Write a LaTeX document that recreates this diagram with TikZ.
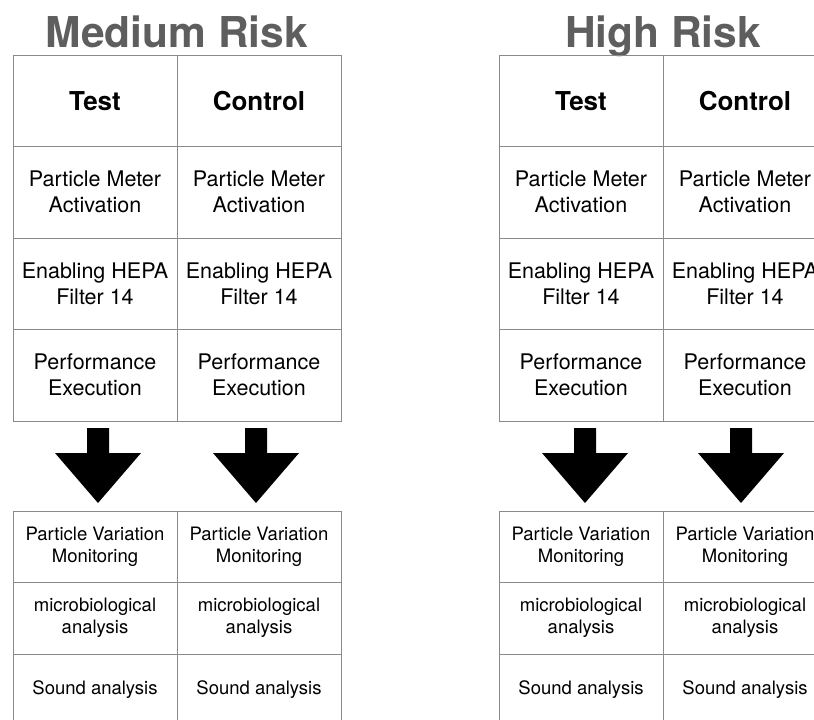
\documentclass[tikz,border=0pt]{standalone}
\usepackage{fontspec}
\setmainfont{TeX Gyre Heros}
\definecolor{linegray}{HTML}{8A8A8A}
\definecolor{titlegray}{HTML}{5E5E5E}
\tikzset{
  cellup/.style={draw=linegray, line width=0.9pt, minimum width=164pt, minimum height=91.5pt,
    inner sep=0pt, align=center, font=\fontsize{21.5}{26}\selectfont},
  cellhead/.style={cellup, font=\fontsize{26}{28}\selectfont\bfseries},
  celllow/.style={draw=linegray, line width=0.9pt, minimum width=164pt, minimum height=71.5pt,
    inner sep=0pt, align=center, font=\fontsize{18.5}{22}\selectfont},
  titletext/.style={anchor=base, text=titlegray, inner sep=0pt, font=\fontsize{42.5}{44}\selectfont\bfseries},
  downarrow/.pic={\fill[black] (-11,0) -- (11,0) -- (11,25) -- (43,25) -- (0,75) -- (-43,25) -- (-11,25) -- cycle;}
}
\begin{document}
\begin{tikzpicture}[x=1pt,y=-1pt]
\useasboundingbox (0,0) rectangle (814,720);
\clip (0,0) rectangle (814,720);
% ---------- Medium Risk ----------
\node[titletext] (mtitle) at (177,47) {Medium Risk};
\node[cellhead] (mt1) at (95,100.75) {Test};
\node[cellhead] (mc1) at (259,100.75) {Control};
\node[cellup] (mt2) at (95,192.25) {Particle Meter\\Activation};
\node[cellup] (mc2) at (259,192.25) {Particle Meter\\Activation};
\node[cellup] (mt3) at (95,283.75) {Enabling HEPA\\Filter 14};
\node[cellup] (mc3) at (259,283.75) {Enabling HEPA\\Filter 14};
\node[cellup] (mt4) at (95,375.25) {Performance\\Execution};
\node[cellup] (mc4) at (259,375.25) {Performance\\Execution};
\pic at (98,428) {downarrow};
\pic at (256,428) {downarrow};
\node[celllow] (mt5) at (95,546.75) {Particle Variation\\Monitoring};
\node[celllow] (mc5) at (259,546.75) {Particle Variation\\Monitoring};
\node[celllow] (mt6) at (95,618.25) {microbiological\\analysis};
\node[celllow] (mc6) at (259,618.25) {microbiological\\analysis};
\node[celllow] (mt7) at (95,689.75) {Sound analysis};
\node[celllow] (mc7) at (259,689.75) {Sound analysis};
% ---------- High Risk ----------
\node[titletext] (htitle) at (663,47) {High Risk};
\node[cellhead] (ht1) at (581,100.75) {Test};
\node[cellhead] (hc1) at (745,100.75) {Control};
\node[cellup] (ht2) at (581,192.25) {Particle Meter\\Activation};
\node[cellup] (hc2) at (745,192.25) {Particle Meter\\Activation};
\node[cellup] (ht3) at (581,283.75) {Enabling HEPA\\Filter 14};
\node[cellup] (hc3) at (745,283.75) {Enabling HEPA\\Filter 14};
\node[cellup] (ht4) at (581,375.25) {Performance\\Execution};
\node[cellup] (hc4) at (745,375.25) {Performance\\Execution};
\pic at (585,428) {downarrow};
\pic at (741,428) {downarrow};
\node[celllow] (ht5) at (581,546.75) {Particle Variation\\Monitoring};
\node[celllow] (hc5) at (745,546.75) {Particle Variation\\Monitoring};
\node[celllow] (ht6) at (581,618.25) {microbiological\\analysis};
\node[celllow] (hc6) at (745,618.25) {microbiological\\analysis};
\node[celllow] (ht7) at (581,689.75) {Sound analysis};
\node[celllow] (hc7) at (745,689.75) {Sound analysis};
\end{tikzpicture}
\end{document}
